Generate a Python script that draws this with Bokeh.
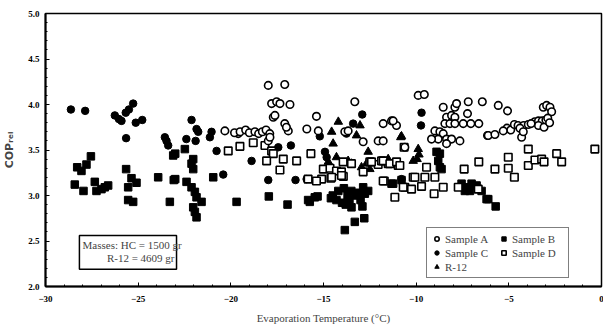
from bokeh.plotting import figure
from bokeh.models import Range1d, FixedTicker, Label, BoxAnnotation, Legend, LegendItem, NumeralTickFormatter
from bokeh.embed import file_html
from bokeh.resources import INLINE

# ---------------- data ----------------
x_ticks = [-30, -25, -20, -15, -10, -5, 0]
y_ticks = [2.0, 2.5, 3.0, 3.5, 4.0, 4.5, 5.0]

# Sample A (open circles)
a_x = [-17.98, -17.09, -17.8, -17.53, -17.35, -16.81, -17.71, -17.62, -17.09, -16.90, -17.0,
       -20.32, -19.6, -19.8, -19.5, -19.2, -19.0, -18.7, -18.5, -18.3, -18.1, -17.9, -17.98, -17.89,
       -13.31, -9.89, -9.56, -15.38, -11.78, -11.33, -11.06, -11.24, -15.9, -15.28,
       -12.05, -11.78, -12.86, -10.61, -13.85, -13.67,
       -8.54, -7.91, -7.82, -7.19, -6.43, -7.23, -8.36, -8.09, -7.91,
       -8.45, -8.18, -7.91, -7.46, -7.05, -6.62,
       -8.99, -8.72, -8.54, -8.81, -9.17, -8.36, -8.09, -8.36, -7.64, -6.15,
       -5.57, -5.07, -3.14, -2.96, -2.78, -2.69,
       -5.1, -4.9, -4.7, -4.5, -4.2, -3.95, -3.6, -3.4, -3.2, -3.0, -2.9, -3.4, -3.1, -2.8, -3.8, -4.4, -5.3,
       -6.11, -5.75, -4.31, -4.22]
a_y = [4.21, 4.22, 4.01, 4.03, 4.01, 4.00, 3.86, 3.88, 3.79, 3.71, 3.75,
       3.71, 3.68, 3.69, 3.70, 3.72, 3.69, 3.70, 3.68, 3.70, 3.72, 3.68, 3.60, 3.64,
       4.03, 4.10, 4.11, 3.87, 3.79, 3.82, 3.77, 3.82, 3.73, 3.71,
       3.60, 3.60, 3.59, 3.53, 3.70, 3.71,
       3.97, 3.97, 4.01, 4.03, 4.03, 3.90, 3.86, 3.88, 3.86,
       3.79, 3.79, 3.79, 3.79, 3.79, 3.79,
       3.71, 3.70, 3.68, 3.62, 3.62, 3.62, 3.62, 3.57, 3.60, 3.66,
       3.99, 3.93, 3.97, 3.99, 3.97, 3.92,
       3.74, 3.72, 3.78, 3.77, 3.77, 3.78, 3.81, 3.82, 3.82, 3.83, 3.85, 3.77, 3.75, 3.80, 3.79, 3.74, 3.71,
       3.66, 3.67, 3.64, 3.70]

# Sample B (filled squares)
b_x = [-27.55, -28.29, -28.06, -27.79, -28.42, -27.95, -27.34, -27.25, -26.98, -26.8, -26.62,
       -25.65, -25.36, -25.09, -25.54, -25.54, -25.27, -23.92, -23.08, -23.29, -23.11,
       -23.0, -22.48, -22.03, -22.12, -22.03, -23.0, -22.39, -22.12, -21.94, -21.85, -21.58,
       -22.03, -21.94, -21.85, -20.95, -19.69, -17.95, -16.94,
       -15.74, -15.32, -15.83, -15.47, -13.85, -13.31, -12.8, -13.49,
       -14.5, -14.3, -14.0, -13.8, -13.6, -13.3, -13.1, -14.2, -13.9, -13.5, -13.0, -12.9, -14.6, -13.7,
       -12.77, -12.59, -12.86, -11.33, -11.24, -10.79,
       -8.9, -8.72, -8.81, -8.72, -8.63,
       -7.55, -7.28, -7.01, -6.74, -7.37, -7.1, -6.11, -6.47, -6.2, -5.71]
b_y = [3.43, 3.31, 3.27, 3.34, 3.12, 3.05, 3.15, 3.05, 3.07, 3.09, 3.11,
       3.29, 3.19, 3.14, 3.09, 2.95, 2.93, 3.20, 3.17, 2.93, 3.44,
       3.46, 3.51, 3.40, 3.35, 3.29, 3.18, 3.15, 3.09, 3.04, 2.98, 2.93,
       2.87, 2.82, 2.76, 3.20, 2.93, 2.99, 2.90,
       2.93, 2.99, 2.95, 2.98, 2.62, 2.71, 2.75, 2.87,
       3.00, 2.95, 2.92, 2.90, 2.95, 3.00, 3.03, 3.05, 3.08, 3.05, 2.95, 2.88, 2.97, 3.00,
       3.02, 3.05, 3.09, 3.13, 3.13, 3.17,
       3.48, 3.46, 3.38, 3.31, 3.29,
       3.13, 3.09, 3.13, 3.11, 3.05, 3.05, 2.96, 3.05, 2.96, 2.88]

# Sample C (filled circles)
c_x = [-28.63, -27.86, -26.26, -26.04, -25.9, -25.67, -25.5, -25.27, -25.13, -24.78, -25.65,
       -23.56, -23.47, -23.38, -22.12, -21.85, -21.76, -21.04, -22.4, -21.9, -21.13,
       -20.77, -20.41, -18.88, -17.98, -16.76, -17.44, -16.51,
       -12.91, -15.91, -15.2, -9.71, -9.74, -13.4, -13.76, -14.92, -14.83, -10.79]
c_y = [3.945, 3.93, 3.88, 3.84, 3.82, 3.91, 3.945, 4.01, 3.80, 3.83, 3.63,
       3.64, 3.60, 3.55, 3.83, 3.73, 3.70, 3.70, 3.62, 3.60, 3.64,
       3.49, 3.23, 3.38, 3.17, 3.55, 3.53, 3.17,
       3.89, 3.18, 3.65, 3.91, 3.77, 3.79, 3.68, 3.48, 3.42, 3.18]

# Sample D (open squares)
d_x = [-20.14, -19.51, -18.79, -18.16, -17.8, -17.71, -18.07, -17.17, -16.45, -17.35,
       -15.68, -15.1, -14.6, -13.93, -13.49,
       -12.5, -12.05, -11.51, -10.97, -11.72, -11.15, -10.61, -10.25, -10.16,
       -15.01, -14.65, -14.3, -14.03, -13.94, -15.83, -15.38, -14.56, -14.03, -12.86, -12.41, -11.87,
       -10.65, -11.78, -11.42, -11.06, -10.88, -9.44, -9.53, -8.99, -11.78, -10.7, -9.71, -10.07,
       -9.03, -8.54, -7.73, -7.41, -6.62, -6.65,
       -3.95, -5.03, -5.75, -5.03, -4.7, -3.95, -3.59, -3.23, -3.1, -2.42, -2.15, -0.36]
d_y = [3.49, 3.54, 3.58, 3.55, 3.49, 3.46, 3.38, 3.40, 3.38, 3.28,
       3.46, 3.18, 3.19, 3.21, 3.35,
       3.37, 3.34, 3.35, 3.33, 3.16, 2.98, 3.09, 3.07, 3.20,
       3.29, 3.30, 3.27, 3.26, 3.37, 3.18, 3.16, 3.20, 3.22, 3.26, 3.37, 3.38,
       3.53, 3.38, 3.35, 3.37, 3.33, 3.31, 3.20, 3.20, 3.16, 3.09, 3.10, 3.20,
       3.02, 3.09, 3.09, 3.29, 3.37, 3.07,
       3.51, 3.42, 3.29, 3.30, 3.20, 3.33, 3.39, 3.40, 3.37, 3.46, 3.37, 3.51]

# R-12 (filled triangles)
r_x = [-14.2, -13.03, -14.56, -13.22, -10.79, -14.48, -12.59, -10.83, -9.89, -9.85, -9.95, -10.16,
       -11.51, -14.74, -14.3, -13.67, -13.49, -12.95, -12.68, -12.5, -14.74]
r_y = [3.81, 3.77, 3.70, 3.66, 3.65, 3.57, 3.48, 3.64, 3.51, 3.45, 3.40, 3.38,
       3.40, 3.37, 3.42, 3.38, 3.35, 3.31, 3.35, 3.29, 3.31]

SERIF = "Liberation Serif"

p = figure(frame_width=556, frame_height=273, x_range=Range1d(-30, 0), y_range=Range1d(2, 5),
           output_backend="svg", toolbar_location=None,
           min_border_left=44, min_border_right=3, min_border_top=13, min_border_bottom=44)
p.background_fill_color = "white"
p.border_fill_color = "white"
p.xgrid.visible = False
p.ygrid.visible = False
p.outline_line_color = "black"
p.outline_line_width = 1.5

for ax in (p.xaxis[0], p.yaxis[0]):
    ax.axis_line_width = 2
    ax.axis_line_color = "black"
    ax.major_tick_in = 4
    ax.major_tick_out = 0
    ax.minor_tick_in = 2
    ax.minor_tick_out = 0
    ax.major_label_text_font = SERIF
    ax.major_label_text_font_style = "bold"
    ax.major_label_text_font_size = "9px"
    ax.major_label_text_color = "black"

p.xaxis.ticker = FixedTicker(ticks=x_ticks, minor_ticks=list(range(-30, 1)))
p.yaxis.ticker = FixedTicker(ticks=y_ticks, minor_ticks=[2 + 0.1 * i for i in range(31)])
p.yaxis.formatter = NumeralTickFormatter(format="0.0")
p.xaxis.major_label_standoff = 9
p.yaxis.major_label_standoff = 6
p.xaxis.axis_label = "Evaporation Temperature (°C)"
p.xaxis.axis_label_text_font = SERIF
p.xaxis.axis_label_text_font_style = "normal"
p.xaxis.axis_label_text_font_size = "11px"
p.xaxis.axis_label_standoff = 7

# y axis title COP_rel (unicode subscript letters)
p.yaxis.axis_label = "COP\u1d63\u2091\u2097"
p.yaxis.axis_label_text_font = "DejaVu Sans"
p.yaxis.axis_label_text_font_style = "bold"
p.yaxis.axis_label_text_font_size = "11px"
p.yaxis.axis_label_standoff = 9

rB = p.scatter(b_x, b_y, marker="square", size=7.5, fill_color="black", line_color="black", line_width=1)
rC = p.scatter(c_x, c_y, marker="circle", size=7.5, fill_color="black", line_color="black", line_width=1)
rR = p.scatter(r_x, r_y, marker="triangle", size=8.5, fill_color="black", line_color="black", line_width=1)
rD = p.scatter(d_x, d_y, marker="square", size=7.5, fill_color="white", line_color="black", line_width=1.6)
rA = p.scatter(a_x, a_y, marker="circle", size=7.5, fill_color="white", line_color="black", line_width=1.6)

legend = Legend(items=[LegendItem(label="Sample A", renderers=[rA]),
                       LegendItem(label="Sample C", renderers=[rC]),
                       LegendItem(label="R-12", renderers=[rR]),
                       LegendItem(label="Sample B", renderers=[rB]),
                       LegendItem(label="Sample D", renderers=[rD])],
                location=(381, 8), orientation="vertical", nrows=3,
                label_text_font=SERIF, label_text_font_size="11px",
                glyph_width=11, glyph_height=13, label_height=13, label_width=52, label_standoff=3,
                spacing=1, padding=4, margin=0,
                border_line_color="black", border_line_width=1.5, background_fill_alpha=1)
p.add_layout(legend)

# annotation box
p.add_layout(BoxAnnotation(left=-28.17, right=-22.93, bottom=2.19, top=2.56,
                           fill_color="white", fill_alpha=1, line_color="black", line_alpha=1,
                           line_width=1.5))
p.add_layout(Label(x=-28.0, y=2.46, text="Masses: HC = 1500 gr", text_font=SERIF,
                   text_font_size="11px", text_baseline="middle", text_align="left"))
p.add_layout(Label(x=-23.04, y=2.31, text="R-12 = 4609 gr", text_font=SERIF,
                   text_font_size="11px", text_baseline="middle", text_align="right"))

open("out.html", "w").write(file_html(p, INLINE))
